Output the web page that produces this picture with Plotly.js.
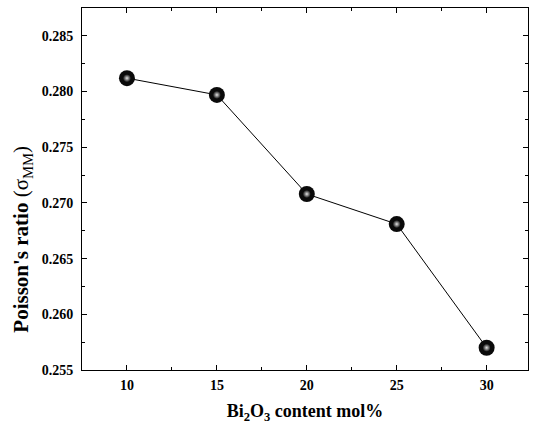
<!DOCTYPE html>
<html>
<head>
<script src="https://cdn.plot.ly/plotly-3.0.1.min.js"></script>
<style>body{margin:0;padding:0;background:#fff}#chart{width:533px;height:427px}</style>
</head>
<body>
<div id="chart"></div>
<script>
const bi2o3Content = [10, 15, 20, 25, 30];
const poissonRatio = [0.2812, 0.2797, 0.2708, 0.2681, 0.2570];
const yTickVals = [0.255, 0.260, 0.265, 0.270, 0.275, 0.280, 0.285];
const yTickText = ['0.255', '0.260', '0.265', '0.270', '0.275', '0.280', '0.285'];
const xTickVals = [10, 15, 20, 25, 30];
const yTitleText = "Poisson's ratio <span style='font-weight:normal'>(σ<sub>MM</sub>)</span>";
const xTitleText = 'Bi<sub>2</sub>O<sub>3</sub> content mol%';

const fontFam = '"Liberation Serif", "Times New Roman", serif';

const lineTrace = {
  x: bi2o3Content,
  y: poissonRatio,
  mode: 'lines+markers',
  type: 'scatter',
  line: {color: '#000', width: 1},
  marker: {size: 16, color: '#0a0a0a', line: {width: 0}},
  hoverinfo: 'none'
};
const shineTrace = {
  x: bi2o3Content,
  y: poissonRatio,
  mode: 'markers',
  type: 'scatter',
  marker: {size: 8, color: '#0a0a0a', gradient: {type: 'radial', color: '#e4e4e4'}, line: {width: 0}},
  hoverinfo: 'none'
};

const axisCommon = {
  showline: true, linecolor: '#000', linewidth: 1, mirror: 'ticks',
  ticks: 'inside', ticklen: 5, tickwidth: 1, tickcolor: '#000',
  showgrid: false, zeroline: false,
  tickfont: {family: fontFam, size: 14, color: '#000', weight: 'bold'}
};

const layout = {
  width: 533, height: 427,
  margin: {l: 82, r: 5, t: 8, b: 57},
  paper_bgcolor: '#fff', plot_bgcolor: '#fff',
  showlegend: false,
  font: {family: fontFam, color: '#000'},
  xaxis: Object.assign({}, axisCommon, {
    range: [7.5, 32.3],
    tickmode: 'array', tickvals: xTickVals,
    ticklabelstandoff: 2,
    minor: {dtick: 2.5, tick0: 0, ticks: 'inside', ticklen: 3, tickcolor: '#000', showgrid: false},
    title: {text: xTitleText, font: {family: fontFam, size: 18, weight: 'bold', color: '#000'}, standoff: 12}
  }),
  yaxis: Object.assign({}, axisCommon, {
    range: [0.255, 0.2875],
    tickmode: 'array', tickvals: yTickVals, ticktext: yTickText,
    ticklabelstandoff: 5,
    minor: {dtick: 0.0025, tick0: 0, ticks: 'inside', ticklen: 3, tickcolor: '#000', showgrid: false}
  }),
  annotations: [{
    text: yTitleText,
    xref: 'paper', yref: 'paper',
    x: 0, y: 0.36, xanchor: 'center', yanchor: 'middle',
    xshift: -60, textangle: -90, showarrow: false,
    font: {family: fontFam, size: 21, weight: 'bold', color: '#000'}
  }]
};

Plotly.newPlot('chart', [lineTrace, shineTrace], layout, {displayModeBar: false, staticPlot: true});
</script>
</body>
</html>
